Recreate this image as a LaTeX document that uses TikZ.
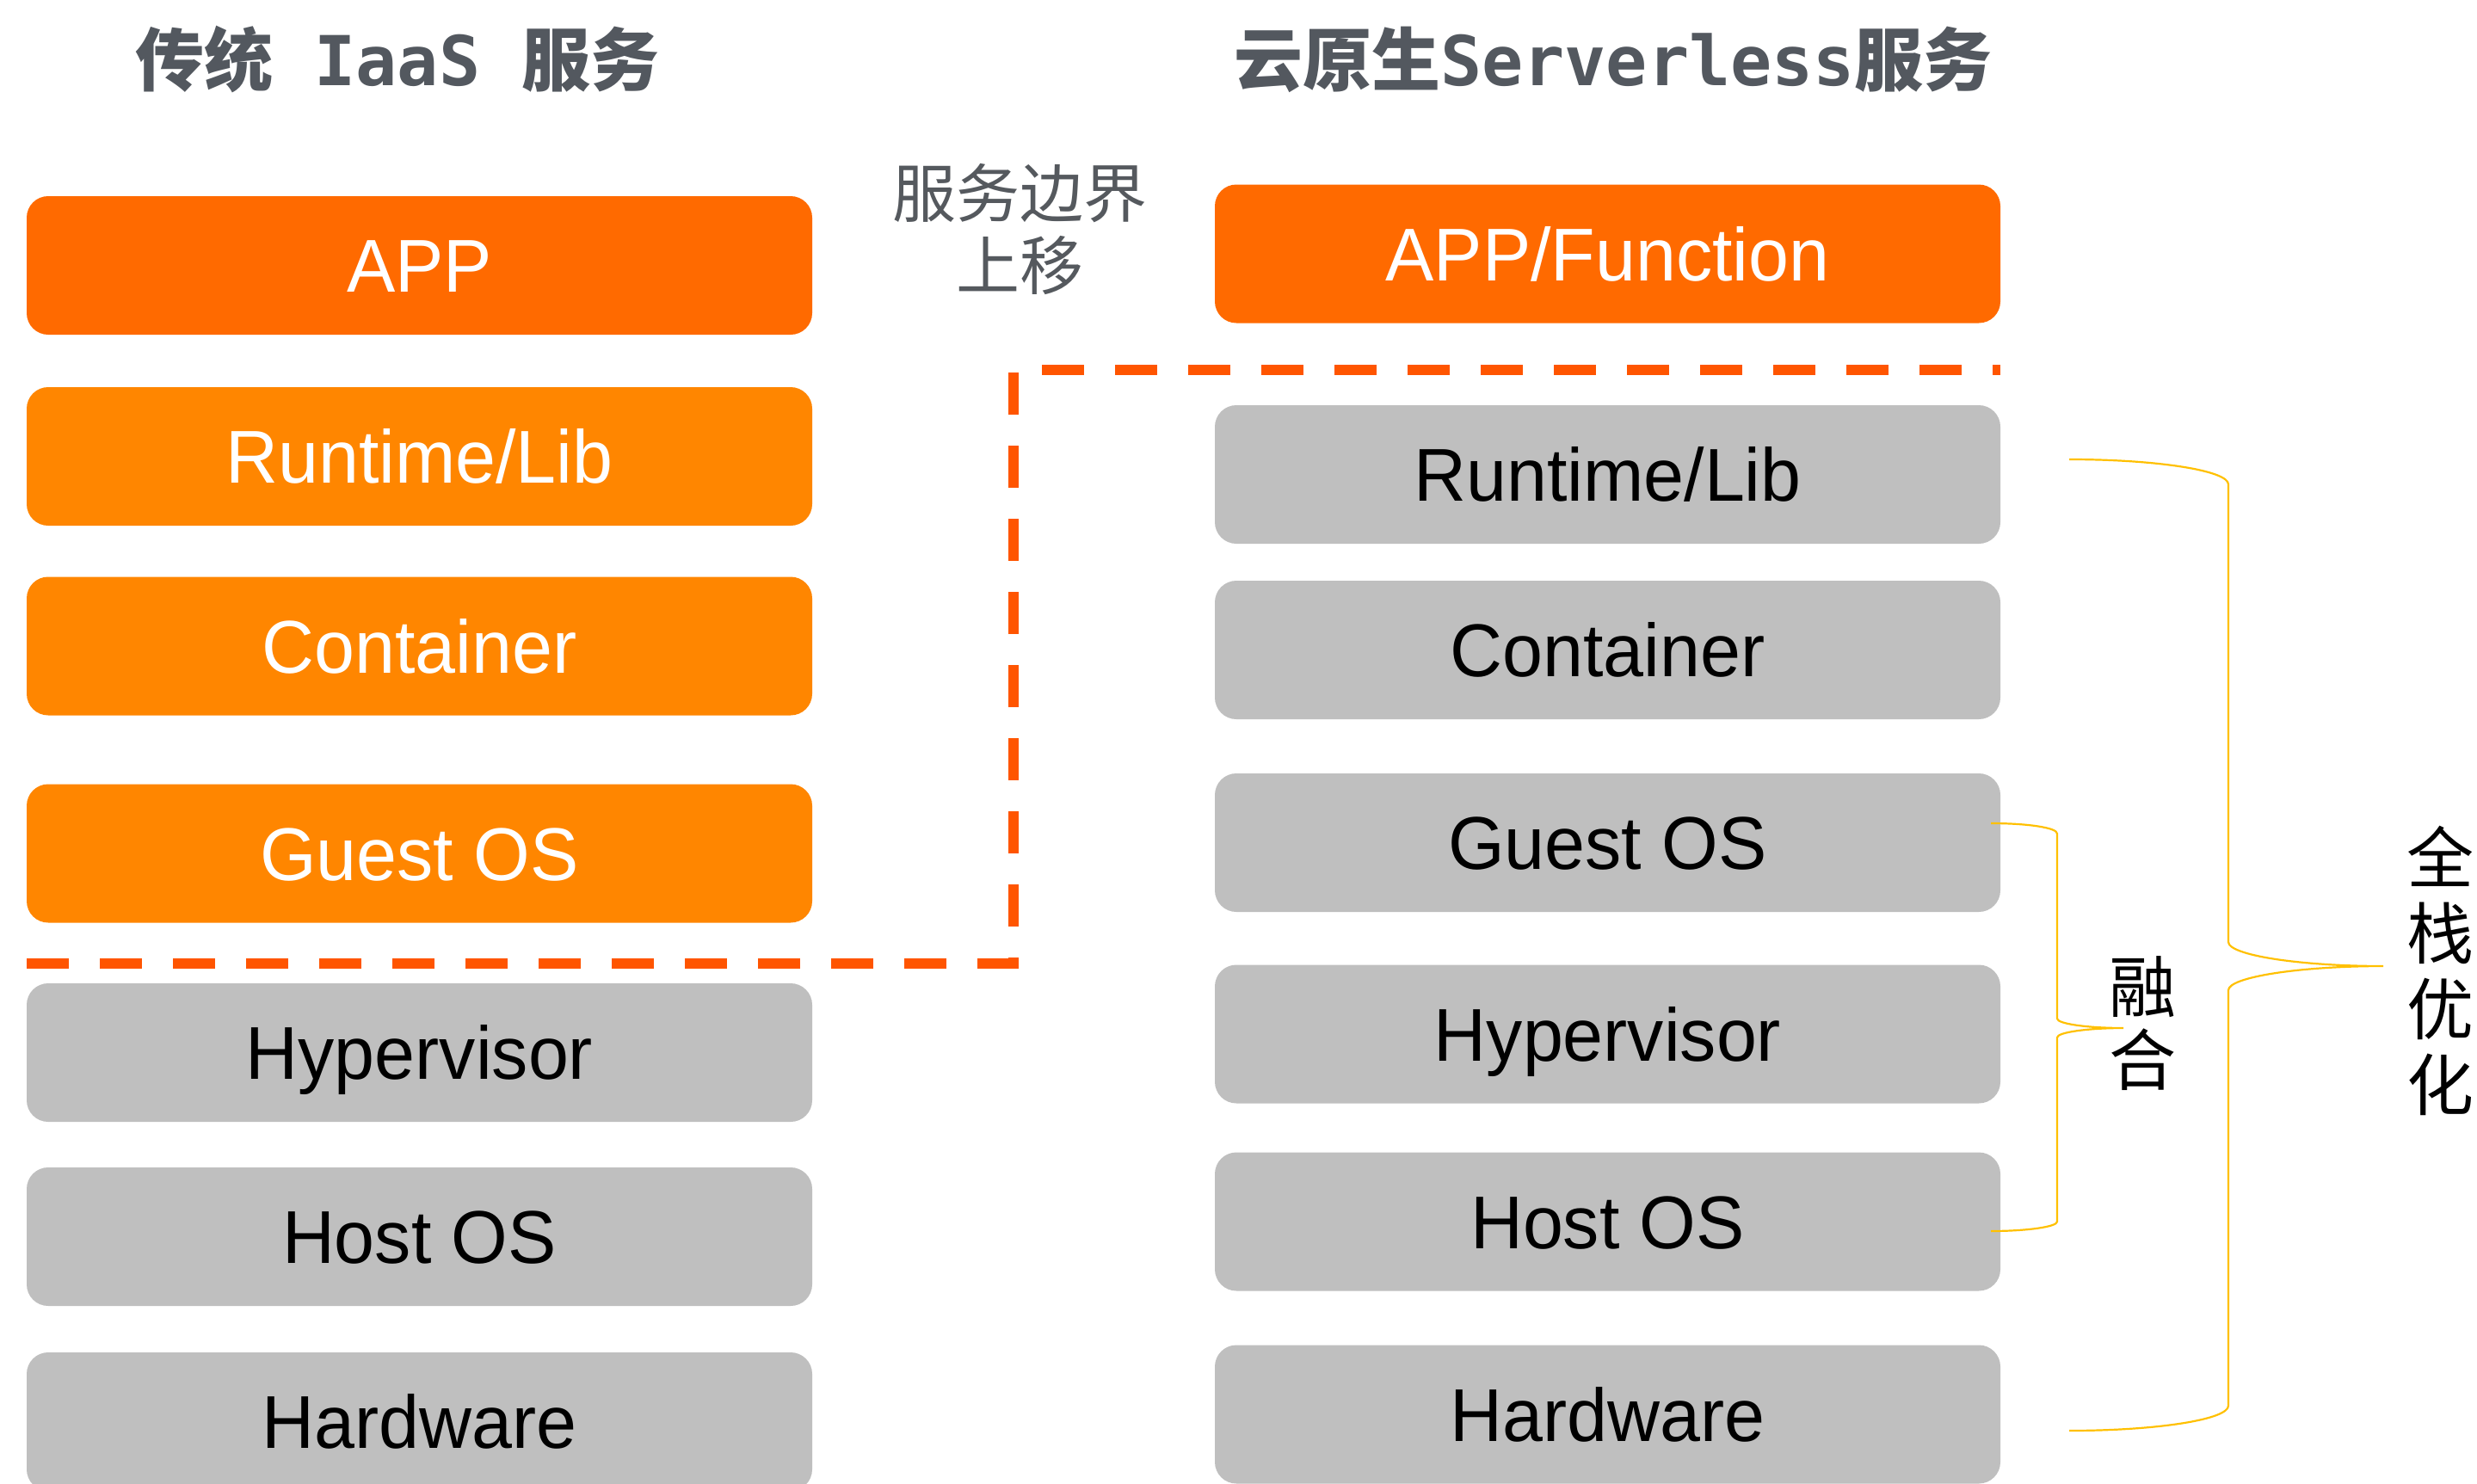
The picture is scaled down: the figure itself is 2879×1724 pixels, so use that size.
\documentclass[tikz,border=0pt]{standalone}
\usepackage{fontspec}
\setmainfont{Liberation Sans}
\newfontfamily\boxfont[FakeStretch=0.97]{Liberation Sans}
\newfontfamily\cjk{Noto Sans CJK SC}
\newfontfamily\monob{DejaVu Sans Mono}
\definecolor{appor}{HTML}{FF6A00}
\definecolor{midor}{HTML}{FF8600}
\definecolor{boxgray}{HTML}{BFBFBF}
\definecolor{dashor}{HTML}{FF5500}
\definecolor{bracey}{HTML}{FFC000}
\definecolor{titlegray}{HTML}{53585F}
\definecolor{notegray}{HTML}{55595E}
\begin{document}
\begin{tikzpicture}[x=0.5pt,y=-0.5pt,
  layer/.style={rounded corners=12.5pt, minimum width=456.5pt, minimum height=80.5pt,
    inner sep=0pt, text height=31.1pt, text depth=0pt,
    font=\boxfont\fontsize{43.5pt}{52pt}\selectfont},
  apptop/.style={layer, fill=appor, text=white},
  midlayer/.style={layer, fill=midor, text=white},
  graylayer/.style={layer, fill=boxgray, text=black},
  titletext/.style={inner sep=0pt, text=titlegray, font=\bfseries\fontsize{40pt}{48pt}\selectfont},
  cjknote/.style={inner sep=0pt, align=center},
  boundary/.style={draw=dashor, line width=6pt, dash pattern=on 24.5pt off 18pt},
  bracestyle/.style={draw=bracey, line width=1.1pt}
]
\useasboundingbox (0,0) rectangle (2879,1724);
\clip (0,0) rectangle (2879,1724);

% titles
\node[titletext] (t1) at (462,69) {{\cjk 传统}{\monob\ IaaS\ }{\cjk 服务}};
\node[titletext] (t2) at (1875,69) {{\cjk 云原生}{\monob Serverless}{\cjk 服务}};

% left stack
\node[apptop]    (l1) at (487.5,308.5) {APP};
\node[midlayer]  (l2) at (487.5,530.5) {Runtime/Lib};
\node[midlayer]  (l3) at (487.5,751)   {Container};
\node[midlayer]  (l4) at (487.5,992)   {Guest OS};
\node[graylayer] (l5) at (487.5,1223.5) {Hypervisor};
\node[graylayer] (l6) at (487.5,1437.5) {Host OS};
\node[graylayer] (l7) at (487.5,1652.5) {Hardware};

% right stack
\node[apptop]    (r1) at (1868.5,295)   {APP/Function};
\node[graylayer] (r2) at (1868.5,551.5) {Runtime/Lib};
\node[graylayer] (r3) at (1868.5,755.5) {Container};
\node[graylayer] (r4) at (1868.5,979.5) {Guest OS};
\node[graylayer] (r5) at (1868.5,1202)  {Hypervisor};
\node[graylayer] (r6) at (1868.5,1420)  {Host OS};
\node[graylayer] (r7) at (1868.5,1644)  {Hardware};

% service boundary note
\node[cjknote, text=notegray, font=\cjk\fontsize{37pt}{42pt}\selectfont] (note) at (1185,266) {服务边界\\上移};

% dashed boundary
\coordinate (b0) at (31,1120);
\coordinate (b1) at (1178,1120);
\coordinate (b2) at (1178,430);
\coordinate (b3) at (2325,430);
\draw[boundary] (b0) -- (b1) -- (b2) -- (b3);

% big brace
\coordinate (gt) at (2405,534);
\coordinate (gm) at (2770,1123);
\coordinate (gb) at (2405,1663);
\draw[bracestyle] (gt) .. controls (2507,534) and (2590,547) .. (2590,563)
  -- (2590,1095) .. controls (2590,1110) and (2671,1123) .. (gm)
  .. controls (2671,1123) and (2590,1136) .. (2590,1151)
  -- (2590,1634) .. controls (2590,1650) and (2507,1663) .. (gb);

% small brace
\coordinate (st) at (2314,957);
\coordinate (sm) at (2468,1195);
\coordinate (sb) at (2314,1431);
\draw[bracestyle] (st) .. controls (2356,957) and (2391,962) .. (2391,969)
  -- (2391,1184) .. controls (2391,1190) and (2426,1195) .. (sm)
  .. controls (2426,1195) and (2391,1200) .. (2391,1206)
  -- (2391,1420) .. controls (2391,1426) and (2356,1431) .. (sb);

% brace labels
\node[cjknote, text=black, font=\cjk\fontsize{39pt}{42.5pt}\selectfont] (fuse) at (2490,1190) {融\\合};
\node[cjknote, text=black, font=\cjk\fontsize{39pt}{44pt}\selectfont] (full) at (2836,1128) {全\\栈\\优\\化};
\end{tikzpicture}
\end{document}
